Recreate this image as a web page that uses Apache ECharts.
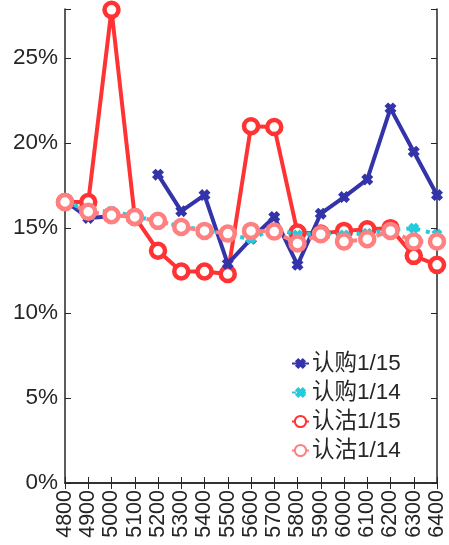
<!DOCTYPE html>
<html><head><meta charset="utf-8">
<script src="https://cdn.jsdelivr.net/npm/echarts@6/dist/echarts.min.js"></script>
<style>html,body{margin:0;padding:0;background:#fff}#c{width:449px;height:545px}</style>
</head><body><div id="c"></div>
<script>
const categories = ['4800','4900','5000','5100','5200','5300','5400','5500','5600','5700','5800','5900','6000','6100','6200','6300','6400'];
const callJan15 = [16.6,15.6,15.7,null,18.15,16.0,16.95,12.9,14.37,15.66,12.84,15.85,16.83,17.87,22.05,19.5,16.95];
const callJan14 = [16.6,16.0,16.0,15.7,15.4,15.1,14.9,14.6,14.37,15.0,14.6,14.7,14.6,14.7,14.9,15.0,14.64];
const putJan15 = [16.54,16.54,27.85,15.66,13.67,12.45,12.45,12.3,21.0,20.95,14.74,14.68,14.84,14.94,15.0,13.37,12.84];
const putJan14 = [16.54,15.97,15.76,15.66,15.43,15.07,14.84,14.68,14.84,14.8,14.1,14.64,14.21,14.35,14.84,14.21,14.21];
const yTicks = [0,5,10,15,20,25];

const X = 'path://M3,0 L5,2 L7,0 L10,3 L8,5 L10,7 L7,10 L5,8 L3,10 L0,7 L2,5 L0,3 Z';
const font = 'Liberation Sans, Arial, Noto Sans CJK SC, sans-serif';
const fs = 22.5;
const toFrac = a => a.map(v => v == null ? null : v / 100);

const chart = echarts.init(document.getElementById('c'));
chart.setOption({
  animation: false,
  grid: {left: 65, right: 12, top: 9, bottom: 62},
  legend: {
    orient: 'vertical', left: 286, top: 347, itemGap: 6,
    itemWidth: 17, itemHeight: 14,
    textStyle: {fontSize: fs, lineHeight: 23, color: '#262626', fontFamily: font, padding: [0,0,0,-2]},
    data: ['认购1/15','认购1/14','认沽1/15','认沽1/14']
  },
  xAxis: [{
    type: 'category', data: categories, boundaryGap: false,
    axisLine: {lineStyle: {color: '#262626', width: 1.5}},
    axisTick: {inside: true, length: 6, interval: 0, lineStyle: {color: '#262626'}},
    axisLabel: {rotate: 90, fontSize: 21.5, color: '#262626', fontFamily: font, interval: 0, margin: 7},
    splitLine: {show: false}
  }, {
    type: 'category', data: categories, boundaryGap: false, position: 'top',
    axisLine: {lineStyle: {color: '#262626', width: 1.5}},
    axisTick: {inside: true, length: 6, interval: 0, lineStyle: {color: '#262626'}},
    axisLabel: {show: false}, splitLine: {show: false}
  }],
  yAxis: [{
    type: 'value', min: 0, max: 0.279, interval: 0.05,
    axisLine: {show: true, lineStyle: {color: '#262626', width: 1.5}},
    axisTick: {show: true, inside: true, length: 6, lineStyle: {color: '#262626'}},
    axisLabel: {fontSize: fs, color: '#262626', fontFamily: font, margin: 7,
      formatter: v => { const p = Math.round(v * 100); return yTicks.indexOf(p) >= 0 ? p + '%' : ''; }},
    splitLine: {show: false}
  }, {
    type: 'value', min: 0, max: 0.279, interval: 0.05, position: 'right',
    axisLine: {show: true, lineStyle: {color: '#262626', width: 1.5}},
    axisTick: {show: true, inside: true, length: 6, lineStyle: {color: '#262626'}},
    axisLabel: {show: false}, splitLine: {show: false}
  }],
  series: [
    {name: '认购1/15', type: 'line', data: toFrac(callJan15), z: 3,
     symbol: X, symbolSize: 12, connectNulls: false,
     itemStyle: {color: '#3333AA'}, lineStyle: {color: '#3333AA', width: 4}},
    {name: '认购1/14', type: 'line', data: toFrac(callJan14), z: 4,
     symbol: X, symbolSize: 11,
     itemStyle: {color: '#22CCDD'}, lineStyle: {color: '#22CCDD', width: 4, type: [4, 6]}},
    {name: '认沽1/15', type: 'line', data: toFrac(putJan15), z: 2,
     symbol: 'circle', symbolSize: 14,
     itemStyle: {color: '#fff', borderColor: '#FF3333', borderWidth: 4.5},
     lineStyle: {color: '#FF3333', width: 4}},
    {name: '认沽1/14', type: 'line', data: toFrac(putJan14), z: 5,
     symbol: 'circle', symbolSize: 14,
     itemStyle: {color: '#fff', borderColor: '#FF8080', borderWidth: 4.5},
     lineStyle: {color: '#FF8080', width: 4, type: [8, 6]}}
  ]
});
</script></body></html>
